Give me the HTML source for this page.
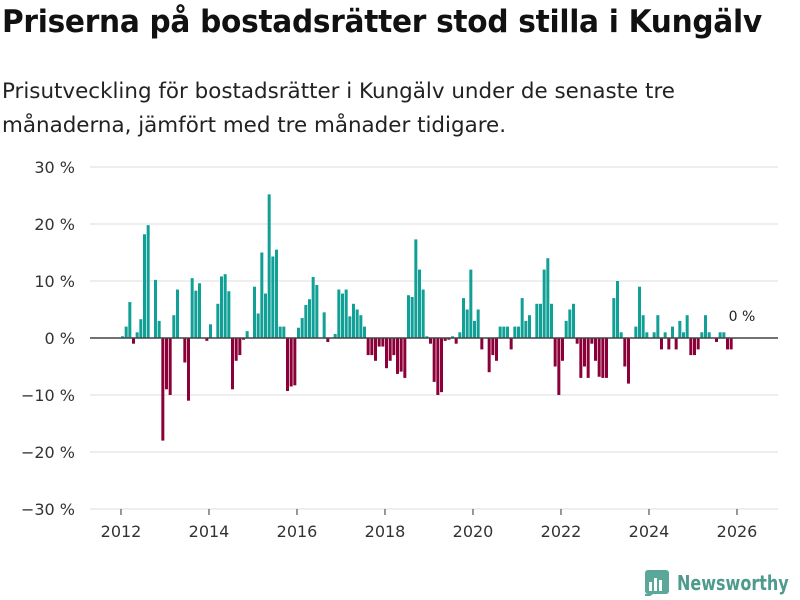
<!DOCTYPE html>
<html><head><meta charset="utf-8"><style>
body{margin:0;width:800px;height:600px;background:#fff;font-family:"Liberation Sans","DejaVu Sans",sans-serif;overflow:hidden;position:relative}
h1{position:absolute;left:2px;top:4px;margin:0;font-size:31px;font-weight:bold;color:#111;letter-spacing:-0.3px;font-family:"DejaVu Sans",sans-serif;transform:scaleX(0.955);transform-origin:left;white-space:nowrap}
.sub{position:absolute;left:2px;top:74px;margin:0;font-size:21px;line-height:34px;color:#222;font-family:"DejaVu Sans",sans-serif;transform:scaleX(1.02);transform-origin:left;width:800px}
svg{position:absolute;left:0;top:0}
</style></head><body>
<h1>Priserna på bostadsrätter stod stilla i Kungälv</h1>
<div class="sub">Prisutveckling för bostadsrätter i Kungälv under de senaste tre<br>månaderna, jämfört med tre månader tidigare.</div>
<svg id="chart" width="800" height="600"></svg>
<script>
const yTicks=[30,20,10,0,-10,-20,-30];
const yTickLabels=["30 %","20 %","10 %","0 %","−10 %","−20 %","−30 %"];
const xTicks=[2012,2014,2016,2018,2020,2022,2024,2026];
const startYear=2012;
const values=[0.3,2,6.3,-1,1,3.3,18.2,19.8,0,10.2,3,-18,-9,-10,4,8.5,0,-4.3,-11,10.5,8.3,9.6,0,-0.5,2.4,0,6,10.8,11.2,8.2,-9,-4,-3,-0.3,1.2,0,9,4.3,15,7.8,25.2,14.3,15.5,2,2,-9.3,-8.5,-8.3,1.8,3.5,5.8,6.8,10.7,9.3,0,4.5,-0.7,0,0.7,8.5,7.8,8.5,3.8,6,5,4,2,-3,-3,-4,-1.5,-1.5,-5.3,-4,-3,-6.3,-5.9,-7,7.5,7.2,17.3,12,8.5,0.3,-1,-7.7,-10,-9.5,-0.5,-0.3,0.3,-1,1,7,5,12,3,5,-2,0,-6,-3,-4,2,2,2,-2,2,2,7,3,4,0,6,6,12,14,6,-5,-10,-4,3,5,6,-1,-7,-5,-7,-1,-4,-6.8,-7,-7,0,7,10,1,-5,-8,0,2,9,4,1,0,1,4,-2,1,-2,2,-2,3,1,4,-3,-3,-2,1,4,1,0,-0.7,1,1,-2,-2];
const lastLabel="0 %";
const NS="http://www.w3.org/2000/svg";
const svg=document.getElementById('chart');
const yS=v=>338-v*5.7;
const xS=yr=>121+(yr-startYear)*44;
function mk(t,a){const e=document.createElementNS(NS,t);for(const k in a)e.setAttribute(k,a[k]);svg.appendChild(e);return e;}
yTicks.forEach((t,i)=>{
  if(t!==0){const g=mk('line',{x1:90,x2:778,y1:yS(t),y2:yS(t),stroke:'#dddddd','stroke-width':1});
  
  }
  const l=mk('text',{x:75,y:yS(t)+6,'text-anchor':'end','font-size':16,fill:'#333','font-family':'DejaVu Sans, sans-serif'});
  l.textContent=yTickLabels[i];
  
  
});
xTicks.forEach(t=>{
  const tk=mk('line',{x1:xS(t),x2:xS(t),y1:509,y2:515,stroke:'#333','stroke-width':1});
  
  
  const l=mk('text',{x:xS(t),y:537,'text-anchor':'middle','font-size':16,fill:'#333','font-family':'DejaVu Sans, sans-serif'});
  l.textContent=t;
  
  
});
values.forEach((v,i)=>{
  const x=xS(startYear+i/12);
  const y0=yS(Math.max(v,0)),y1=yS(Math.min(v,0));
  const r=mk('rect',{x:x,y:y0,width:3,height:Math.max(y1-y0,0),fill:v>=0?'#10a096':'#8c0039'});
  
  
});
const z=mk('line',{x1:90,x2:778,y1:338,y2:338,stroke:'#444','stroke-width':1.5});


const ll=mk('text',{x:xS(startYear+(values.length-1)/12)-1,y:321,'font-size':14,fill:'#222','font-family':'DejaVu Sans, sans-serif'});
ll.textContent=lastLabel;


</script>
<div style="position:absolute;left:645px;top:570px;display:flex;align-items:center">
<svg width="24" height="26" style="position:static"><rect x="0" y="0" width="24" height="24" rx="3" fill="#5aa89a"/><rect x="4" y="12" width="3" height="9" fill="#fff"/><rect x="9" y="8" width="3" height="13" fill="#fff"/><rect x="14" y="10" width="3" height="11" fill="#fff"/><polygon points="0,24 8,24 0,30" fill="#5aa89a"/></svg>
<span style="margin-left:8px;font-size:20px;font-weight:bold;color:#4d9b8c;font-family:'DejaVu Sans',sans-serif;transform:scaleX(0.8);transform-origin:left;display:inline-block">Newsworthy</span>
</div>
</body></html>
